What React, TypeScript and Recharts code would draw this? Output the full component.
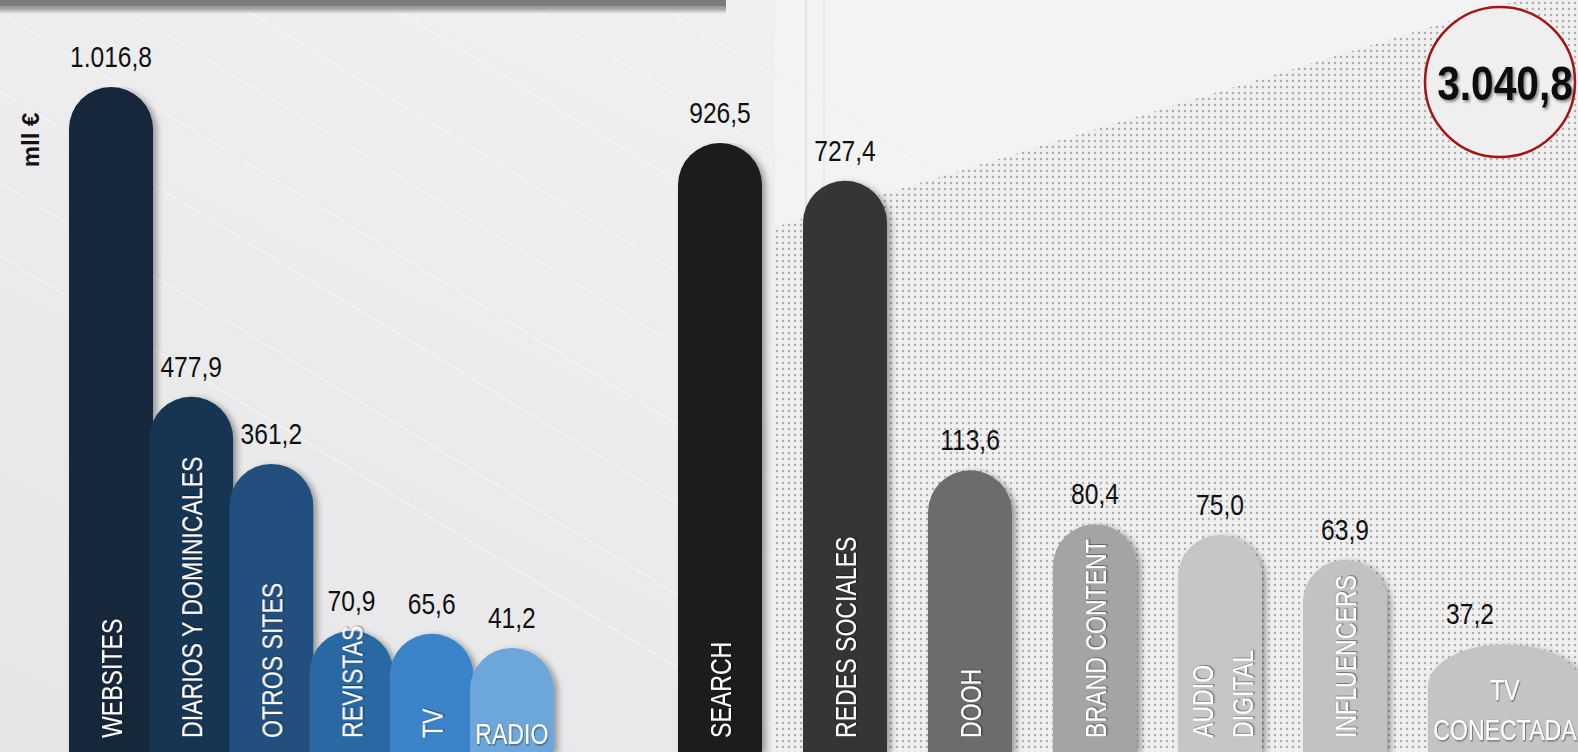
import React from 'react';
import { BarChart, Bar, XAxis, YAxis, LabelList } from 'recharts';

// ---------- data ----------
const leftCategories = ['WEBSITES', 'DIARIOS Y DOMINICALES', 'OTROS SITES', 'REVISTAS', 'TV', 'RADIO'];
const leftValues = [1016.8, 477.9, 361.2, 70.9, 65.6, 41.2];
const leftColors = ['#13263b', '#183553', '#23507d', '#2c68a3', '#3b84ca', '#6ca6da'];

const rightCategories = ['SEARCH', 'REDES SOCIALES', 'DOOH', 'BRAND CONTENT', 'AUDIO DIGITAL', 'INFLUENCERS', 'TV CONECTADA'];
const rightValues = [926.5, 727.4, 113.6, 80.4, 75.0, 63.9, 37.2];
const rightColors = ['#1a1a1a', '#353535', '#6c6c6c', '#a4a4a4', '#c6c6c6', '#c2c2c2', '#c4c4c4'];

const totalValue = 3040.8;
const unitLabel = 'mll €';
const horizontalLabels = ['RADIO', 'TV CONECTADA'];
const twoLineLabels = ['AUDIO DIGITAL', 'TV CONECTADA'];

const leftData = leftCategories.map((name, i) => ({ name, value: leftValues[i] }));
const rightData = rightCategories.map((name, i) => ({ name, value: rightValues[i] }));

// ---------- style ----------
const W = 1578;
const H = 752;
const FLOOR = 752;
const FONT = "'Liberation Sans', Arial, sans-serif";
const BAR_W = 84;
const WIDE_W = 154;
const WIDE_SHIFT = 35;
const NAME_SIZE = 30;
const NAME_SX = 0.77;
const VAL_SIZE = 30;
const VAL_SX = 0.82;

const fmt = (v: number) => {
  const [i, d] = v.toFixed(1).split('.');
  return i.replace(/\B(?=(\d{3})+(?!\d))/g, '.') + ',' + d;
};

const makeShape = (colors: string[], wideIndex: number) => (props: any) => {
  const { x, y, width, index } = props;
  let c = x + width / 2;
  let w = BAR_W;
  if (index === wideIndex) {
    w = WIDE_W;
    c += WIDE_SHIFT;
  }
  const l = c - w / 2;
  const r = c + w / 2;
  const ry = 42;
  const d = `M${l},${FLOOR} L${l},${y + ry} A${w / 2},${ry} 0 0 1 ${r},${y + ry} L${r},${FLOOR} Z`;
  return <path d={d} fill={colors[index]} filter="url(#barShadow)" />;
};

const makeValueLabel = () => (props: any) => {
  const { x, y, width, value } = props;
  const cx = x + width / 2;
  return (
    <text
      transform={`translate(${cx},${y - 20}) scale(${VAL_SX},1)`}
      textAnchor="middle"
      fontSize={VAL_SIZE}
      fill="#111"
      fontFamily={FONT}
    >
      {fmt(Number(value))}
    </text>
  );
};

const makeNameLabel = (wideIndex: number) => (props: any) => {
  const { x, width, value, index } = props;
  let cx = x + width / 2;
  if (index === wideIndex) cx += WIDE_SHIFT;
  const name = String(value);
  const lines = twoLineLabels.includes(name) ? name.split(' ') : [name];
  const common = {
    fill: '#fff',
    fontSize: NAME_SIZE,
    fontFamily: FONT,
    filter: 'url(#txtShadow)',
  };
  if (horizontalLabels.includes(name)) {
    const lh = 40;
    const lastBase = lines.length > 1 ? FLOOR - 12 : FLOOR - 8;
    return (
      <g>
        {lines.map((ln, k) => (
          <text
            key={k}
            transform={`translate(${cx},${lastBase - (lines.length - 1 - k) * lh}) scale(${NAME_SX},1)`}
            textAnchor="middle"
            {...common}
          >
            {ln}
          </text>
        ))}
      </g>
    );
  }
  const spacing = 40;
  return (
    <g>
      {lines.map((ln, k) => {
        const off = (k - (lines.length - 1) / 2) * spacing + (lines.length > 1 ? 2 : 0);
        return (
          <text
            key={k}
            transform={`translate(${cx + off},${FLOOR - 14}) rotate(-90) scale(${NAME_SX},1)`}
            dy="0.36em"
            textAnchor="start"
            {...common}
          >
            {ln}
          </text>
        );
      })}
    </g>
  );
};

const diagOffsets = [-420, -300, -150, -20, 110, 230, 380, 520, 650];

const Background = () => (
  <svg width={W} height={H} style={{ position: 'absolute', left: 0, top: 0 }}>
    <defs>
      <linearGradient id="bgGrad" x1="1" y1="0" x2="0" y2="1">
        <stop offset="0" stopColor="#f4f4f5" />
        <stop offset="1" stopColor="#e6e6e8" />
      </linearGradient>
      <pattern id="dots" width="6" height="6" patternUnits="userSpaceOnUse">
        <rect width="6" height="6" fill="#f0f0f0" />
        <circle cx="3" cy="3" r="1.2" fill="#adadad" />
      </pattern>
      <linearGradient id="bandShade" x1="0" y1="0" x2="0" y2="1">
        <stop offset="0" stopColor="#8a8a8a" />
        <stop offset="0.6" stopColor="#a0a0a0" />
        <stop offset="1" stopColor="#a0a0a0" stopOpacity="0" />
      </linearGradient>
      <filter id="barShadow" x="-30%" y="-10%" width="160%" height="130%">
        <feDropShadow dx="4" dy="2" stdDeviation="3" floodColor="#000" floodOpacity="0.35" />
      </filter>
      <filter id="txtShadow" x="-10%" y="-20%" width="130%" height="150%">
        <feDropShadow dx="1" dy="1" stdDeviation="0.8" floodColor="#000" floodOpacity="0.55" />
      </filter>
      <filter id="bigTxtShadow" x="-10%" y="-20%" width="130%" height="150%">
        <feDropShadow dx="2" dy="2" stdDeviation="1.5" floodColor="#000" floodOpacity="0.45" />
      </filter>
    </defs>
    <rect x={0} y={0} width={W} height={H} fill="url(#bgGrad)" />
    <rect x={775} y={0} width={W - 775} height={H} fill="#f3f3f3" />
    {diagOffsets.map((o, i) => (
      <line key={i} x1={o} y1={0} x2={o + 1250} y2={760} stroke="#fafafa" strokeWidth={2} opacity={0.45} />
    ))}
    {diagOffsets.map((o, i) => (
      <line key={'d' + i} x1={o + 3} y1={0} x2={o + 1253} y2={760} stroke="#d8d8da" strokeWidth={1} opacity={0.2} />
    ))}
    <line x1={806} y1={0} x2={806} y2={230} stroke="#e4e4e4" strokeWidth={2} />
    <line x1={824} y1={0} x2={824} y2={225} stroke="#ececec" strokeWidth={2} />
    <polygon points="772,228 1578,-18 1578,752 772,752" fill="url(#dots)" />
    <rect x={0} y={0} width={726} height={14} fill="url(#bandShade)" />
    <rect x={0} y={0} width={726} height={6} fill="#7b7b7b" />
  </svg>
);

const Overlay = () => (
  <svg width={W} height={H} style={{ position: 'absolute', left: 0, top: 0, pointerEvents: 'none' }}>
    <text
      transform="translate(30,140) rotate(-90)"
      dy="0.36em"
      textAnchor="middle"
      fontSize={24}
      fontWeight="bold"
      fontFamily={FONT}
      fill="#111"
    >
      {unitLabel}
    </text>
    <circle cx={1500} cy={82} r={75} fill="#efefef" stroke="#a31515" strokeWidth={2.5} />
    <text
      transform="translate(1505,100) scale(0.83,1)"
      textAnchor="middle"
      fontSize={49}
      fontWeight="bold"
      fontFamily={FONT}
      fill="#111"
      filter="url(#bigTxtShadow)"
    >
      {fmt(totalValue)}
    </text>
  </svg>
);

export default function App() {
  return (
    <div
      style={{
        position: 'absolute',
        left: 0,
        top: 0,
        width: W,
        height: H,
        overflow: 'hidden',
        fontFamily: FONT,
      }}
    >
      <Background />
      <div style={{ position: 'absolute', left: 0, top: 0 }}>
        <BarChart
          width={600}
          height={H}
          data={leftData}
          margin={{ top: 87, right: 600 - 71 - 481, bottom: 0, left: 71 }}
        >
          <XAxis dataKey="name" hide />
          <YAxis type="number" domain={[-140, 1016.8]} allowDataOverflow hide />
          <Bar dataKey="value" isAnimationActive={false} shape={makeShape(leftColors, -1)}>
            <LabelList dataKey="value" content={makeValueLabel()} />
            <LabelList dataKey="name" content={makeNameLabel(-1)} />
          </Bar>
        </BarChart>
      </div>
      <div style={{ position: 'absolute', left: 600, top: 0 }}>
        <BarChart
          width={W - 600}
          height={H}
          data={rightData}
          margin={{ top: 143, right: W - 600 - 57.5 - 875, bottom: 0, left: 57.5 }}
        >
          <XAxis dataKey="name" hide />
          <YAxis type="number" scale="log" domain={[18.66, 926.5]} allowDataOverflow hide />
          <Bar dataKey="value" isAnimationActive={false} shape={makeShape(rightColors, 6)}>
            <LabelList dataKey="value" content={makeValueLabel()} />
            <LabelList dataKey="name" content={makeNameLabel(6)} />
          </Bar>
        </BarChart>
      </div>
      <Overlay />
    </div>
  );
}
